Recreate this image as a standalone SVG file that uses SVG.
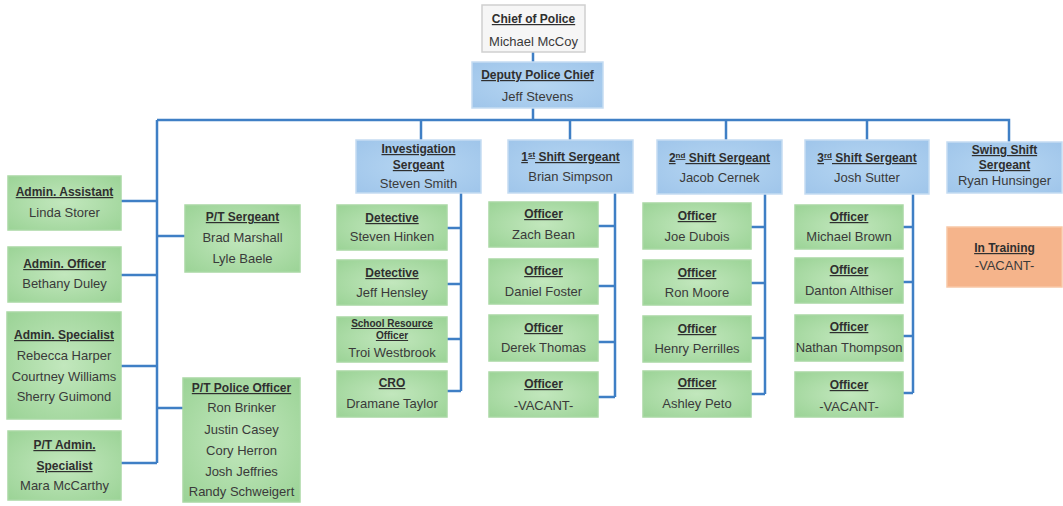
<svg xmlns="http://www.w3.org/2000/svg" width="1063" height="506" viewBox="0 0 1063 506">
<defs>
<radialGradient id="gg" cx="50%" cy="50%" r="70%"><stop offset="0" stop-color="#c2e7bd"/><stop offset="1" stop-color="#9bd396"/></radialGradient>
<radialGradient id="bg" cx="50%" cy="50%" r="70%"><stop offset="0" stop-color="#b6d6f2"/><stop offset="1" stop-color="#9fc5ea"/></radialGradient>
<style>
.g{fill:url(#gg);stroke:#a9d8a4;stroke-width:1.5}
.b{fill:url(#bg);stroke:#c5dcf2;stroke-width:1.5}
.w{fill:#f6f6f6;stroke:#cfcfcf;stroke-width:1.5}
.o{fill:#f5b48b;stroke:#f8c7a6;stroke-width:1.5}
text{font-family:"Liberation Sans",Arial,sans-serif;text-anchor:middle;fill:#3a3a3a}
.t{font-size:12px;font-weight:bold;text-decoration:underline;fill:#2f2f2f}
.s{font-size:10px;font-weight:bold;text-decoration:underline;fill:#2f2f2f}
.n{font-size:13px}
.c{fill:none;stroke:#3f7fc5;stroke-width:2.5}
</style>
</defs>
<g id="connectors" class="c">
<path d="M533 52V62M533 108V120M157 120H1009V142M157 120V463M421 120V140M570 120V140M726 120V140M867 120V140"/>
<path d="M121 201H157M121 275H157M121 366H157M121 463H157M157 236H185M157 408H183"/>
<path d="M461 193V391M447 228H461M447 284H461M447 339H461M447 391H461"/>
<path d="M615 193V397M598 226H615M598 286H615M598 342H615M598 397H615"/>
<path d="M765 194V394M751 227H765M751 283H765M751 338H765M751 394H765"/>
<path d="M913 194V393M903 227H913M903 282H913M903 336H913M903 393H913"/>
</g>
<g id="chief"><rect class="w" x="482" y="5" width="103" height="47"/><text class="t" x="533.5" y="23">Chief of Police</text><text class="n" x="533.5" y="46">Michael McCoy</text></g>
<g id="deputy"><rect class="b" x="472" y="62" width="131" height="46"/><text class="t" x="537.5" y="79">Deputy Police Chief</text><text class="n" x="537.5" y="101">Jeff Stevens</text></g>
<g id="admin-assistant"><rect class="g" x="8" y="176" width="113" height="54"/><text class="t" x="64.5" y="196">Admin. Assistant</text><text class="n" x="64.5" y="217">Linda Storer</text></g>
<g id="admin-officer"><rect class="g" x="8" y="247" width="113" height="55"/><text class="t" x="64.5" y="268">Admin. Officer</text><text class="n" x="64.5" y="288">Bethany Duley</text></g>
<g id="admin-specialist"><rect class="g" x="7" y="312" width="114" height="107"/><text class="t" x="64" y="339">Admin. Specialist</text><text class="n" x="64" y="360">Rebecca Harper</text><text class="n" x="64" y="381">Courtney Williams</text><text class="n" x="64" y="401">Sherry Guimond</text></g>
<g id="pt-admin-specialist"><rect class="g" x="8" y="431" width="113" height="69"/><text class="t" x="64.5" y="449">P/T Admin.</text><text class="t" x="64.5" y="470">Specialist</text><text class="n" x="64.5" y="490">Mara McCarthy</text></g>
<g id="pt-sergeant"><rect class="g" x="185" y="205" width="115" height="67"/><text class="t" x="242.5" y="221">P/T Sergeant</text><text class="n" x="242.5" y="242">Brad Marshall</text><text class="n" x="242.5" y="263">Lyle Baele</text></g>
<g id="pt-police-officer"><rect class="g" x="183" y="378" width="117" height="124"/><text class="t" x="241.5" y="392">P/T Police Officer</text><text class="n" x="241.5" y="412">Ron Brinker</text><text class="n" x="241.5" y="434">Justin Casey</text><text class="n" x="241.5" y="455">Cory Herron</text><text class="n" x="241.5" y="476">Josh Jeffries</text><text class="n" x="241.5" y="496">Randy Schweigert</text></g>
<g id="investigation-sergeant"><rect class="b" x="356" y="140" width="125" height="53"/><text class="t" x="418.5" y="153">Investigation</text><text class="t" x="418.5" y="169">Sergeant</text><text class="n" x="418.5" y="188">Steven Smith</text></g>
<g id="detective-1"><rect class="g" x="337" y="205" width="110" height="45"/><text class="t" x="392" y="222">Detective</text><text class="n" x="392" y="241">Steven Hinken</text></g>
<g id="detective-2"><rect class="g" x="337" y="260" width="110" height="45"/><text class="t" x="392" y="277">Detective</text><text class="n" x="392" y="297">Jeff Hensley</text></g>
<g id="school-resource-officer"><rect class="g" x="337" y="317" width="110" height="45"/><text class="s" x="392" y="327">School Resource</text><text class="s" x="392" y="339">Officer</text><text class="n" x="392" y="357">Troi Westbrook</text></g>
<g id="cro"><rect class="g" x="337" y="371" width="110" height="46"/><text class="t" x="392" y="387">CRO</text><text class="n" x="392" y="408">Dramane Taylor</text></g>
<g id="shift1-sergeant"><rect class="b" x="508" y="140" width="125" height="53"/><text class="t" x="570.5" y="161">1<tspan font-size="8" dy="-4">st</tspan><tspan dy="4"> Shift Sergeant</tspan></text><text class="n" x="570.5" y="181">Brian Simpson</text></g>
<g id="s1-o1"><rect class="g" x="489" y="202" width="109" height="45"/><text class="t" x="543.5" y="218">Officer</text><text class="n" x="543.5" y="239">Zach Bean</text></g>
<g id="s1-o2"><rect class="g" x="489" y="259" width="109" height="45"/><text class="t" x="543.5" y="275">Officer</text><text class="n" x="543.5" y="296">Daniel Foster</text></g>
<g id="s1-o3"><rect class="g" x="489" y="315" width="109" height="46"/><text class="t" x="543.5" y="332">Officer</text><text class="n" x="543.5" y="352">Derek Thomas</text></g>
<g id="s1-o4"><rect class="g" x="489" y="372" width="109" height="45"/><text class="t" x="543.5" y="388">Officer</text><text class="n" x="543.5" y="410">-VACANT-</text></g>
<g id="shift2-sergeant"><rect class="b" x="657" y="140" width="125" height="54"/><text class="t" x="719.5" y="162">2<tspan font-size="8" dy="-4">nd</tspan><tspan dy="4"> Shift Sergeant</tspan></text><text class="n" x="719.5" y="182">Jacob Cernek</text></g>
<g id="s2-o1"><rect class="g" x="643" y="203" width="108" height="46"/><text class="t" x="697" y="220">Officer</text><text class="n" x="697" y="241">Joe Dubois</text></g>
<g id="s2-o2"><rect class="g" x="643" y="260" width="108" height="45"/><text class="t" x="697" y="277">Officer</text><text class="n" x="697" y="297">Ron Moore</text></g>
<g id="s2-o3"><rect class="g" x="643" y="316" width="108" height="46"/><text class="t" x="697" y="333">Officer</text><text class="n" x="697" y="353">Henry Perrilles</text></g>
<g id="s2-o4"><rect class="g" x="643" y="371" width="108" height="46"/><text class="t" x="697" y="387">Officer</text><text class="n" x="697" y="408">Ashley Peto</text></g>
<g id="shift3-sergeant"><rect class="b" x="805" y="140" width="124" height="54"/><text class="t" x="867" y="162">3<tspan font-size="8" dy="-4">rd</tspan><tspan dy="4"> Shift Sergeant</tspan></text><text class="n" x="867" y="182">Josh Sutter</text></g>
<g id="s3-o1"><rect class="g" x="795" y="205" width="108" height="44"/><text class="t" x="849" y="221">Officer</text><text class="n" x="849" y="241">Michael Brown</text></g>
<g id="s3-o2"><rect class="g" x="795" y="258" width="108" height="45"/><text class="t" x="849" y="274">Officer</text><text class="n" x="849" y="295">Danton Althiser</text></g>
<g id="s3-o3"><rect class="g" x="795" y="315" width="108" height="46"/><text class="t" x="849" y="331">Officer</text><text class="n" x="849" y="352">Nathan Thompson</text></g>
<g id="s3-o4"><rect class="g" x="795" y="372" width="108" height="45"/><text class="t" x="849" y="389">Officer</text><text class="n" x="849" y="411">-VACANT-</text></g>
<g id="swing-sergeant"><rect class="b" x="947" y="142" width="115" height="51"/><text class="t" x="1004.5" y="154">Swing Shift</text><text class="t" x="1004.5" y="169">Sergeant</text><text class="n" x="1004.5" y="185">Ryan Hunsinger</text></g>
<g id="in-training"><rect class="o" x="947" y="227" width="115" height="60"/><text class="t" x="1004.5" y="252">In Training</text><text class="n" x="1004.5" y="270">-VACANT-</text></g>
</svg>
